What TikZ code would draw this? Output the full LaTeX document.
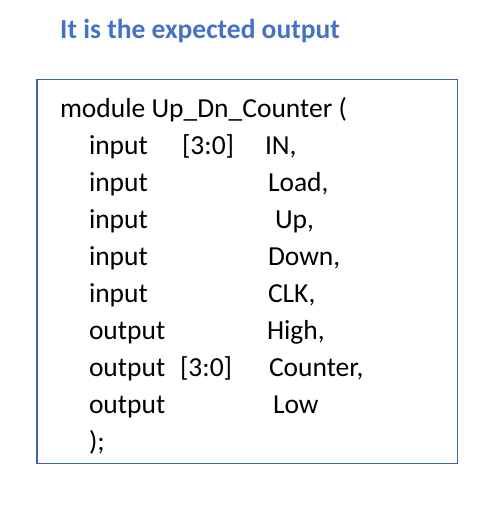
\documentclass[tikz,border=0pt]{standalone}
\usepackage{fontspec}
\setmainfont{Carlito}
\definecolor{titleblue}{HTML}{4472C4}
\definecolor{boxblue}{HTML}{3F63A6}
\begin{document}
\begin{tikzpicture}[x=1pt,y=-1pt,
  code/.style={anchor=base west,inner sep=0pt,outer sep=0pt,font=\fontsize{27.5}{33}\selectfont},
  titletext/.style={anchor=base west,inner sep=0pt,font=\fontsize{27.5}{33}\selectfont\bfseries,text=titleblue}]
\useasboundingbox (0,0) rectangle (502,511);
\node[titletext] (title) at (60,39) {It is the expected output};
\draw[boxblue,line width=1.5pt] (37,79.5) rectangle (457.5,463.5);
\node[code] (l1) at (60,117) {module Up\_Dn\_Counter (};
\node[code] (k2) at (89,154.5) {input};
\node[code] (w2) at (182,154.5) {[3:0]};
\node[code] (n2) at (265,154.5) {IN,};
\node[code] (k3) at (89,191.5) {input};
\node[code] (n3) at (268,191.5) {Load,};
\node[code] (k4) at (89,228.5) {input};
\node[code] (n4) at (275,228.5) {Up,};
\node[code] (k5) at (89,265.5) {input};
\node[code] (n5) at (268,265.5) {Down,};
\node[code] (k6) at (89,302.5) {input};
\node[code] (n6) at (268,302.5) {CLK,};
\node[code] (k7) at (89,339.5) {output};
\node[code] (n7) at (267,339.5) {High,};
\node[code] (k8) at (89,376.5) {output};
\node[code] (w8) at (180,376.5) {[3:0]};
\node[code] (n8) at (269,376.5) {Counter,};
\node[code] (k9) at (89,413) {output};
\node[code] (n9) at (273,413) {Low};
\node[code] (l10) at (89,450) {);};
\end{tikzpicture}
\end{document}
